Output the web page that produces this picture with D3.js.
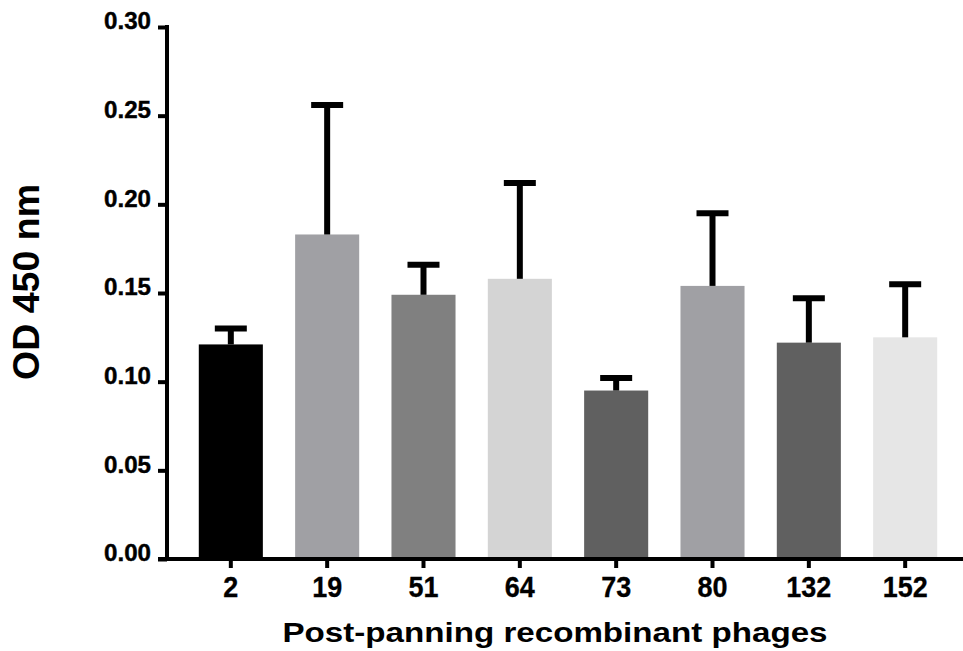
<!DOCTYPE html>
<html><head><meta charset="utf-8">
<script src="https://cdn.jsdelivr.net/npm/d3@7"></script>
<style>html,body{margin:0;padding:0;background:#fff;}svg{display:block;}</style>
</head><body>
<svg id="c" width="963" height="651"></svg>
<script>
const categories = ["2","19","51","64","73","80","132","152"];
const means = [0.121,0.183,0.149,0.158,0.095,0.154,0.122,0.125];
const upper = [0.130,0.256,0.166,0.212,0.102,0.195,0.147,0.155];
const colors = ["#000000","#a0a0a4","#808080","#d4d4d4","#606060","#a0a0a4","#606060","#e6e6e6"];
const yTicks = [0,0.05,0.10,0.15,0.20,0.25,0.30];
const xTitle = "Post-panning recombinant phages";
const yTitle = "OD 450 nm";

const svg = d3.select("#c");
const font = "'Liberation Sans', Arial, sans-serif";
const y = d3.scaleLinear().domain([0,0.30]).range([559,27]);
const x = d3.scaleBand().domain(categories).range([167,969]).paddingInner(0.335).paddingOuter(0.33);

const data = categories.map((c,i)=>({c, m:means[i], u:upper[i], col:colors[i]}));

svg.selectAll("rect.bar").data(data).join("rect").attr("class","bar")
  .attr("x",d=>x(d.c)).attr("width",x.bandwidth())
  .attr("y",d=>y(d.m)).attr("height",d=>y(0)-y(d.m)).attr("fill",d=>d.col);

const eb = svg.append("g").attr("stroke","#000").attr("stroke-width",6);
eb.selectAll("line.stem").data(data).join("line")
  .attr("x1",d=>x(d.c)+x.bandwidth()/2).attr("x2",d=>x(d.c)+x.bandwidth()/2)
  .attr("y1",d=>y(d.m)).attr("y2",d=>y(d.u));
eb.selectAll("line.cap").data(data).join("line").attr("class","cap")
  .attr("x1",d=>x(d.c)+x.bandwidth()/2-16).attr("x2",d=>x(d.c)+x.bandwidth()/2+16)
  .attr("y1",d=>y(d.u)).attr("y2",d=>y(d.u));

// y axis
const ya = svg.append("g").attr("transform","translate(167,0)")
  .call(d3.axisLeft(y).tickValues(yTicks).tickFormat(d3.format(".2f")).tickSize(9).tickSizeOuter(0));
ya.select(".domain").attr("stroke-width",4).attr("d","M0,25V561");
ya.selectAll(".tick line").attr("stroke-width",4);
ya.selectAll(".tick text").attr("font-family",font).attr("font-weight","bold").attr("font-size",23)
  .attr("fill","#000").attr("stroke","#000").attr("stroke-width",0.4)
  .attr("x",-16/1.05).attr("dy","0.08em").attr("transform","scale(1.05,1)");

// x axis
const xa = svg.append("g").attr("transform","translate(0,559)")
  .call(d3.axisBottom(x).tickSize(9).tickSizeOuter(0));
xa.select(".domain").attr("stroke-width",4).attr("d","M158,0H963");
xa.selectAll(".tick line").attr("stroke-width",4);
xa.selectAll(".tick text").attr("font-family",font).attr("font-weight","bold").attr("font-size",29)
  .attr("fill","#000").attr("stroke","#000").attr("stroke-width",0.3)
  .attr("y",38).attr("dy",0).attr("transform","scale(0.93,1)");

svg.append("text").attr("x",555).attr("y",642).attr("text-anchor","middle")
  .attr("font-family",font).attr("font-weight","bold").attr("font-size",28)
  .attr("textLength",545).attr("lengthAdjust","spacingAndGlyphs").text(xTitle);

svg.append("text").attr("transform","translate(39,282) rotate(-90)").attr("text-anchor","middle")
  .attr("font-family",font).attr("font-weight","bold").attr("font-size",36)
  .attr("textLength",196).attr("lengthAdjust","spacingAndGlyphs").text(yTitle);
</script>
</body></html>
